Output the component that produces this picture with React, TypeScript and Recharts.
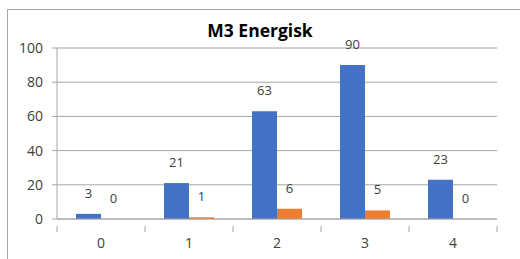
import { Bar, BarChart, CartesianGrid, LabelList, XAxis, YAxis } from 'recharts';

const categories = ['0', '1', '2', '3', '4'];
const blueValues = [3, 21, 63, 90, 23];
const orangeValues = [0, 1, 6, 5, 0];
const yTicks = [0, 20, 40, 60, 80, 100];

const data = categories.map((c, i) => ({
  cat: c,
  blue: blueValues[i],
  orange: orangeValues[i],
}));

const FONT = '"Open Sans", sans-serif';
const LINE = '#a6a6a6';
const TEXT = '#404040';

function CatTick(props: any) {
  const { x, y, payload, index } = props;
  const half = payload?.offset ?? 44;
  const last = index === categories.length - 1;
  return (
    <g>
      <line x1={x - half} y1={y - 1} x2={x - half} y2={y + 5} stroke={LINE} />
      {last && <line x1={x + half} y1={y - 1} x2={x + half} y2={y + 5} stroke={LINE} />}
      <text
        x={x}
        y={y + 21}
        textAnchor="middle"
        fontFamily={FONT}
        fontSize={14}
        fill={TEXT}
      >
        {payload.value}
      </text>
    </g>
  );
}

function ValueLabel(props: any) {
  const { x, y, width, value } = props;
  if (x == null || y == null) return null;
  return (
    <text
      x={Number(x) + Number(width) / 2}
      y={Number(y) - 16}
      textAnchor="middle"
      fontFamily={FONT}
      fontSize={13}
      fill={TEXT}
    >
      {value}
    </text>
  );
}

export default function App() {
  return (
    <div
      style={{
        position: 'absolute',
        left: 0,
        top: 0,
        width: 520,
        height: 259,
        overflow: 'hidden',
        background: '#fff',
      }}
    >
      <div
        style={{
          position: 'absolute',
          left: 7,
          top: 9,
          width: 600,
          height: 300,
          border: `1px solid ${LINE}`,
        }}
      />
      <div
        style={{
          position: 'absolute',
          left: 0,
          top: 18,
          width: 520,
          textAlign: 'center',
          fontFamily: FONT,
          fontWeight: 700,
          fontSize: 17.5,
          color: '#000',
        }}
      >
        M3 Energisk
      </div>
      <div style={{ position: 'absolute', left: 0, top: 0 }}>
        <BarChart
          width={520}
          height={259}
          data={data}
          margin={{ top: 48, right: 23, left: 0, bottom: 0 }}
          barCategoryGap="21.6%"
          barGap={0}
        >
          <CartesianGrid stroke={LINE} vertical={false} />
          <XAxis
            dataKey="cat"
            stroke={LINE}
            tickLine={false}
            tick={<CatTick />}
            interval={0}
            height={40}
          />
          <YAxis
            domain={[0, 100]}
            ticks={yTicks}
            width={57}
            stroke={LINE}
            tickSize={5}
            tickMargin={9}
            tick={{ fontFamily: FONT, fontSize: 14, fill: TEXT }}
          />
          <Bar dataKey="blue" fill="#4472C4" isAnimationActive={false} minPointSize={0.01}>
            <LabelList dataKey="blue" content={<ValueLabel />} />
          </Bar>
          <Bar dataKey="orange" fill="#ED7D31" isAnimationActive={false} minPointSize={0.01}>
            <LabelList dataKey="orange" content={<ValueLabel />} />
          </Bar>
        </BarChart>
      </div>
    </div>
  );
}
